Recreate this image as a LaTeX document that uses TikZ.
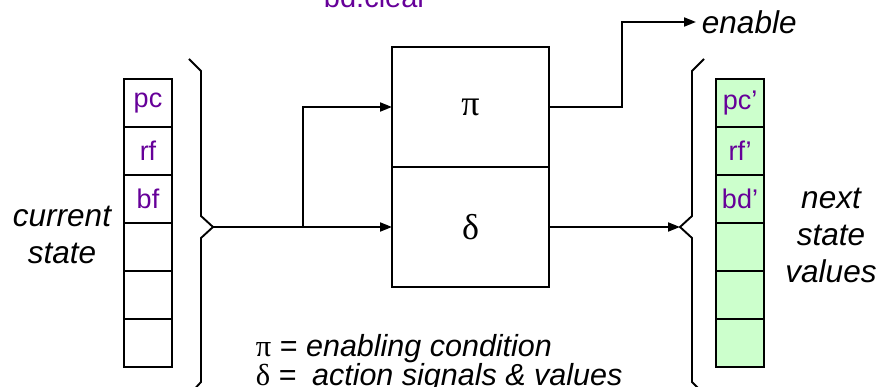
\documentclass[tikz,border=0pt]{standalone}
\usepackage{fontspec}
\setmainfont{Liberation Sans}
\newfontfamily\serifgr{Liberation Serif}
\usetikzlibrary{arrows.meta}
\definecolor{regpurple}{RGB}{102,0,153}
\definecolor{nextgreen}{RGB}{204,255,204}
\begin{document}
\begin{tikzpicture}[x=1pt,y=-1pt,
  line width=1.9pt,
  cell/.style={draw, minimum width=48pt, minimum height=48pt, inner sep=0pt, outer sep=0pt,
    font=\fontsize{27}{30}\selectfont, text=regpurple, anchor=north west},
  ncell/.style={cell, fill=nextgreen},
  func/.style={draw, minimum width=157pt, minimum height=120pt, inner sep=0pt, outer sep=0pt,
    anchor=north west, font=\serifgr\fontsize{36}{40}\selectfont},
  lbl/.style={font=\itshape\fontsize{31.5}{37}\selectfont, align=center, inner sep=0pt},
  sig/.style={-{Triangle[length=12pt,width=9pt]}},
  bracepath/.style={line join=miter}
]
\useasboundingbox (0,0) rectangle (881,387);

% current state register
\node[cell] (l1) at (124,79) {pc};
\node[cell] (l2) at (124,127) {rf};
\node[cell] (l3) at (124,175) {bf};
\node[cell] (l4) at (124,223) {};
\node[cell] (l5) at (124,271) {};
\node[cell] (l6) at (124,319) {};

% next state register
\node[ncell] (r1) at (716,79) {pc’};
\node[ncell] (r2) at (716,127) {rf’};
\node[ncell] (r3) at (716,175) {bd’};
\node[ncell] (r4) at (716,223) {};
\node[ncell] (r5) at (716,271) {};
\node[ncell] (r6) at (716,319) {};

% braces
\draw[bracepath] (189,59) -- (201,71) -- (201,216) -- (213,227) -- (201,238) -- (201,382) -- (190,394);
\coordinate (ltip) at (213,227);
\draw[bracepath] (704,59) -- (692,71) -- (692,216) -- (680,227) -- (692,238) -- (692,382) -- (704,394);
\coordinate (rtip) at (680,227);

% function boxes
\node[func] (pbox) at (392,47) {π};
\node[func] (dbox) at (392,167) {δ};

% labels
\node[lbl] (cur) at (62,235) {current\\state};
\node[lbl] (nxt) at (831,235) {next\\state\\values};
\node[anchor=west, inner sep=0pt, font=\itshape\fontsize{31.5}{37}\selectfont] (en) at (701,22) {enable};
\node[anchor=base west, inner sep=0pt, text=regpurple, font=\fontsize{29}{34}\selectfont] (bdc) at (323,8) {bd.clear};
\node[anchor=north west, inner sep=0pt, align=left, font=\fontsize{30.5}{27.5}\selectfont] (legend) at (255,333)
  {{\serifgr π} = \textit{enabling condition}\\{\serifgr δ} = \hspace{7pt}\textit{action signals \& values}};

% connectors
\coordinate (j) at (303,227);
\coordinate (pcorner) at (622,22);
\draw[sig] (ltip) -- (dbox.west);
\draw[sig] (j) |- (pbox.west);
\draw[sig] (pbox.east) -| (pcorner) -- ([xshift=-5pt]en.west);
\draw[sig] (dbox.east) -- (rtip);
\end{tikzpicture}
\end{document}
